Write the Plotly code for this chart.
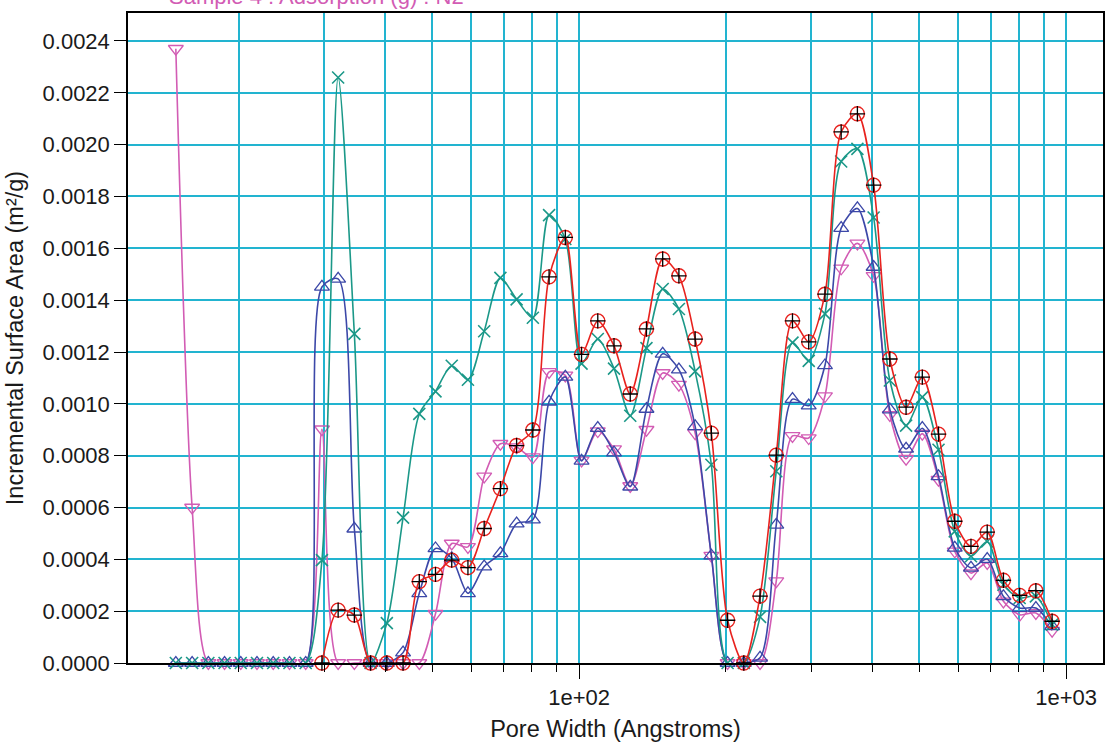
import plotly.graph_objects as go

# Pore widths (Angstroms)
pore_width = [14.86, 16.05, 17.33, 18.71, 20.20, 21.81, 23.55, 25.43, 27.46, 29.65,
              32.01, 34.56, 37.32, 40.30, 43.51, 46.98, 50.72, 54.77, 59.13, 63.85,
              68.94, 74.43, 80.37, 86.78, 93.71, 101.18, 109.25, 117.96, 127.37, 137.52,
              148.49, 160.32, 173.11, 186.91, 201.82, 217.91, 235.28, 254.04, 274.30, 296.17,
              319.79, 345.29, 372.82, 402.55, 434.65, 469.30, 506.72, 547.13, 590.75, 637.85,
              688.71, 743.63, 802.92, 866.94, 936.07]

red_area = [None, None, None, None, None, None, None, None, None, 0.0,
            0.000204, 0.000185, 0.0, 0.0, 0.0, 0.000314, 0.000342, 0.000397, 0.000368, 0.000519,
            0.000673, 0.000839, 0.000899, 0.00149, 0.001642, 0.001191, 0.00132, 0.001224, 0.001038, 0.001289,
            0.001559, 0.001494, 0.00125, 0.000887, 0.000165, 0.0, 0.000258, 0.000802, 0.00132, 0.001239,
            0.001423, 0.002049, 0.002119, 0.001844, 0.001173, 0.000987, 0.001103, 0.000883, 0.000547, 0.00045,
            0.000505, 0.000319, 0.000261, 0.000279, 0.000161]

teal_area = [0.0, 0.0, 0.0, 0.0, 0.0, 0.0, 0.0, 0.0, 0.0, 0.000397,
             0.002259, 0.00127, 0.0, 0.000154, 0.000561, 0.000961, 0.001048, 0.001147, 0.001093, 0.00128,
             0.001486, 0.001403, 0.001332, 0.001728, 0.001636, 0.001155, 0.00125, 0.001136, 0.000954, 0.001215,
             0.001443, 0.001366, 0.001125, 0.000765, 0.0, 0.0, 0.000178, 0.00074, 0.001236, 0.001166,
             0.001347, 0.001935, 0.001984, 0.001719, 0.00109, 0.000916, 0.001026, 0.000823, 0.000508, 0.000412,
             0.000469, 0.000302, 0.000251, 0.000257, 0.000148]

blue_area = [0.0, 0.0, 0.0, 0.0, 0.0, 0.0, 0.0, 0.0, 0.0, 0.001451,
             0.001482, 0.000518, 0.0, 0.0, 0.00004, 0.000269, 0.000442, 0.000404, 0.000269, 0.000372,
             0.000423, 0.000538, 0.000553, 0.001008, 0.001104, 0.00078, 0.000906, 0.000812, 0.00068, 0.00098,
             0.001193, 0.001132, 0.000913, 0.000414, 0.0, 0.0, 0.00002, 0.000533, 0.001018, 0.000993,
             0.001148, 0.001678, 0.001754, 0.001528, 0.000978, 0.000826, 0.000906, 0.00072, 0.000444, 0.000367,
             0.000401, 0.000257, 0.000212, 0.000212, 0.000141]

pink_area = [0.00237, 0.0006, 0.0, 0.0, 0.0, 0.0, 0.0, 0.0, 0.0, 0.000902,
             0.0, 0.0, 0.0, 0.0, 0.0, 0.0, 0.00019, 0.000461, 0.000448, 0.00072,
             0.000846, 0.000833, 0.000794, 0.001123, 0.00111, 0.000782, 0.000895, 0.000825, 0.000683, 0.0009,
             0.001119, 0.001074, 0.000887, 0.000414, 0.0, 0.0, 0.0, 0.000316, 0.000876, 0.000868,
             0.00103, 0.001523, 0.001619, 0.001494, 0.000957, 0.000788, 0.000885, 0.000707, 0.000431, 0.000347,
             0.000386, 0.000238, 0.000186, 0.000193, 0.000125]

x_tickvals = [100, 1000]
x_ticktext = ["1e+02", "1e+03"]
x_minor_vals = [20, 30, 40, 50, 60, 70, 80, 90, 200, 300, 400, 500, 600, 700, 800, 900]

RED = "#e8221e"
TEAL = "#1b9888"
BLUE = "#3c48a8"
PINK = "#d25cb4"
GRID = "#22b4d0"
FONT = "Liberation Sans, Arial, sans-serif"

fig = go.Figure()

def series(y, color, symbol, size, lw=1.6, mlw=1.3):
    fig.add_trace(go.Scatter(
        x=pore_width, y=y, mode="lines+markers",
        line=dict(color=color, width=lw, shape="spline", smoothing=0.8),
        marker=dict(symbol=symbol, size=size, color=color, line=dict(color=color, width=mlw)),
        cliponaxis=False, showlegend=False, connectgaps=False))

series(pink_area, PINK, "triangle-down-open", 13)
series(blue_area, BLUE, "triangle-up-open", 13)
series(teal_area, TEAL, "x-thin-open", 12, mlw=1.6)
series(red_area, RED, "circle-open", 14, mlw=1.4)
fig.add_trace(go.Scatter(
    x=pore_width, y=red_area, mode="markers",
    marker=dict(symbol="cross-thin-open", size=11, color="black", line=dict(color="black", width=1.3)),
    cliponaxis=False, showlegend=False))

fig.add_annotation(
    x=0.04, y=1, xref="paper", yref="paper", xanchor="left", yanchor="bottom",
    yshift=2,
    text="Sample 4 : Adsorption (g) : N2", showarrow=False,
    font=dict(family=FONT, size=22, color=PINK))

fig.update_layout(
    width=1109, height=742,
    margin=dict(l=128, r=4, t=13, b=79),
    paper_bgcolor="white", plot_bgcolor="white",
    font=dict(family=FONT, size=22, color="#1a1a1a"),
    showlegend=False,
)

fig.update_xaxes(
    type="log", range=[1.0738, 3.0758],
    tickmode="array", tickvals=x_tickvals, ticktext=x_ticktext,
    ticks="outside", ticklen=14, tickwidth=1.3, tickcolor="black",
    showgrid=True, gridcolor=GRID, gridwidth=1.5,
    showline=True, linecolor="black", linewidth=1.5, mirror=True,
    minor=dict(tickmode="array", tickvals=x_minor_vals, ticks="outside", ticklen=7,
               tickwidth=1.3, tickcolor="black", showgrid=True, gridcolor=GRID, gridwidth=1.5),
    title=dict(text="Pore Width (Angstroms)", standoff=11, font=dict(size=23.5)),
    tickfont=dict(size=22),
    zeroline=False,
)

fig.update_yaxes(
    range=[0, 0.002508], dtick=0.0002, tick0=0, tickformat=".4f",
    ticks="outside", ticklen=12, tickwidth=1.3, tickcolor="black",
    showgrid=True, gridcolor=GRID, gridwidth=1.5,
    showline=True, linecolor="black", linewidth=1.5, mirror=True,
    title=dict(text="Incremental Surface Area (m²/g)", standoff=12, font=dict(size=23.5)),
    tickfont=dict(size=22),
    zeroline=False,
)

fig.write_html("out.html")
